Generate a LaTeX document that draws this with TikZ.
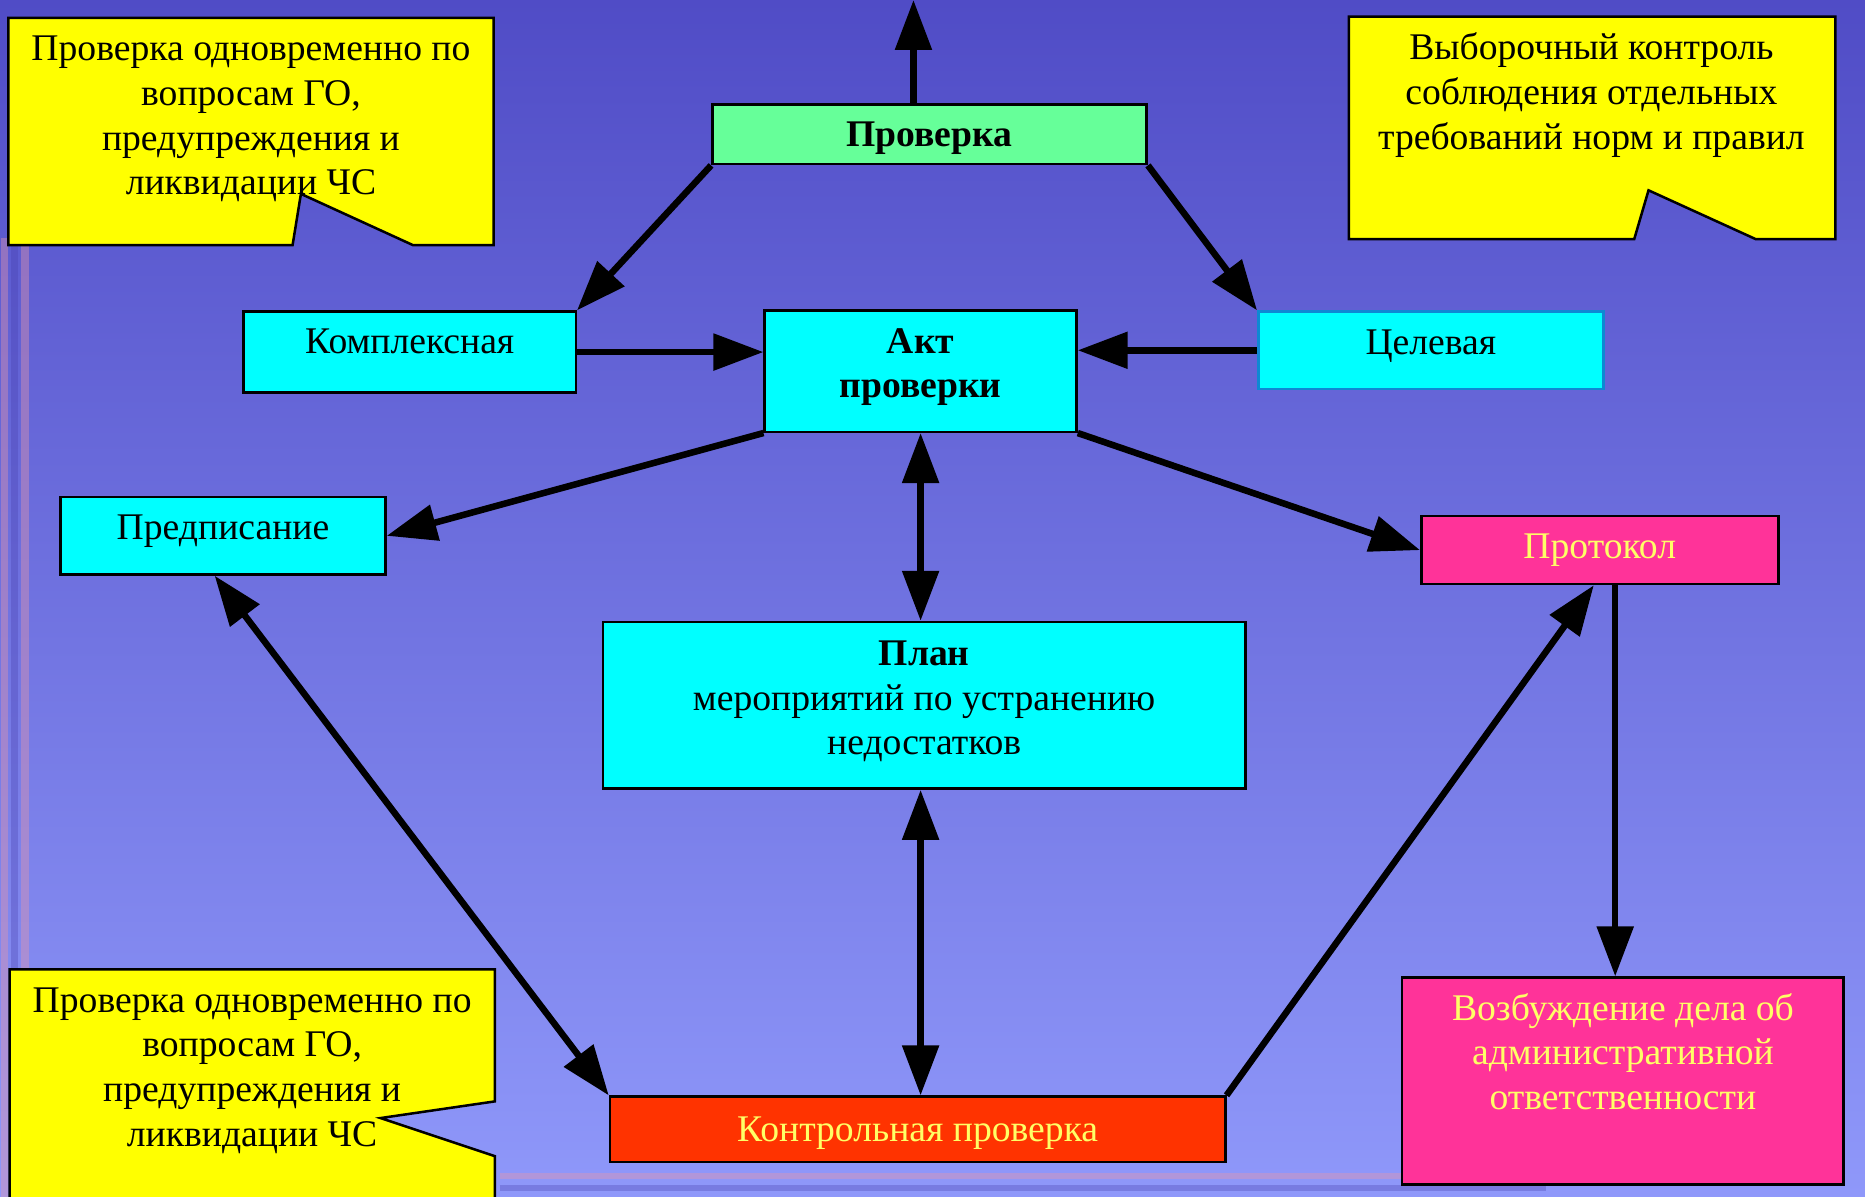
\documentclass[tikz,border=0pt]{standalone}
\usepackage{fontspec}
\setmainfont{Liberation Serif}
\usetikzlibrary{arrows.meta,positioning,calc}

\definecolor{bgtop}{RGB}{80,76,198}
\definecolor{bgbot}{RGB}{143,152,250}
\definecolor{boxcyan}{RGB}{0,255,255}
\definecolor{boxgreen}{RGB}{102,255,153}
\definecolor{boxpink}{RGB}{255,51,153}
\definecolor{boxred}{RGB}{255,51,0}
\definecolor{noteyellow}{RGB}{255,255,0}
\definecolor{txtyellow}{RGB}{255,255,102}
\definecolor{stripepink}{RGB}{230,150,170}
\definecolor{stripedark}{RGB}{70,60,170}

\begin{document}
\begin{tikzpicture}[
    x=0.01cm, y=-0.01cm,
    every node/.style={font=\fontsize{9}{10.7}\selectfont},
    box/.style={rectangle, draw, line width=0.6pt, inner sep=2pt, align=center},
    note/.style={draw, line width=0.6pt, fill=noteyellow},
    arr/.style={line width=0.055cm, -{Triangle[length=4.2mm, width=3mm]}},
    dbl/.style={line width=0.055cm, {Triangle[length=4.2mm, width=3mm]}-{Triangle[length=4.2mm, width=3mm]}},
]
    % Background
    \useasboundingbox (0,0) rectangle (1568,1006);
    \shade[top color=bgtop, bottom color=bgbot] (0,0) rectangle (1568,1006);
    \draw[stripepink, line width=0.06cm, opacity=0.4] (4,200) -- (4,1006);
    \draw[stripedark, line width=0.06cm, opacity=0.3] (12,180) -- (12,1006);
    \draw[stripepink, line width=0.06cm, opacity=0.4] (21,200) -- (21,1006);
    \draw[stripepink, line width=0.05cm, opacity=0.4] (420,989) -- (1200,989);
    \draw[stripedark, line width=0.05cm, opacity=0.3] (420,999) -- (1300,999);

    % Notes
    \draw[note] (7,15) -- (415,15) -- (415,206) -- (347,206) -- (253,163) -- (246,206) -- (7,206) -- cycle;
    \node[align=center] (noteTL) at (211,100) {Проверка одновременно по\\вопросам ГО,\\предупреждения и\\ликвидации ЧС};
    \draw[note] (1134,14) -- (1543,14) -- (1543,201) -- (1476,201) -- (1386,160) -- (1374,201) -- (1134,201) -- cycle;
    \node[align=center] (noteTR) at (1338,80) {Выборочный контроль\\соблюдения отдельных\\требований норм и правил};
    \draw[note] (8,815) -- (416,815) -- (416,926) -- (320,940) -- (416,972) -- (416,1010) -- (8,1010) -- cycle;
    \node[align=center] (noteBL) at (212,900) {Проверка одновременно по\\вопросам ГО,\\предупреждения и\\ликвидации ЧС};

    % Top
    \node[box, fill=boxgreen, minimum width=3.65cm, minimum height=0.5cm, text depth=0pt, font=\fontsize{9}{10.7}\selectfont\bfseries] (proverka) at (781.5,113) {Проверка};
    \coordinate (top) at (768,0);

    % Layer 1
    \node[box, fill=boxcyan, minimum width=2.79cm, minimum height=0.68cm, text depth=5pt] (kompl) at (344.5,296) {Комплексная};
    \node[box, fill=boxcyan, minimum width=2.62cm, minimum height=1.02cm, text depth=3.8pt, font=\fontsize{9}{10.7}\selectfont\bfseries] (akt) at (774,312) {Акт\\проверки};
    \node[box, draw=cyan!70!blue, fill=boxcyan, minimum width=2.9cm, minimum height=0.65cm, text depth=4.1pt] (tselev) at (1203,294.5) {Целевая};

    % Layer 2
    \node[box, fill=boxcyan, minimum width=2.73cm, minimum height=0.65cm, text depth=4.1pt] (predp) at (187.5,450.5) {Предписание};
    \node[box, fill=boxpink, text=txtyellow, minimum width=3cm, minimum height=0.57cm, text depth=1.7pt] (protokol) at (1345,462.5) {Протокол};
    \node[box, fill=boxcyan, minimum width=5.4cm, minimum height=1.4cm, text depth=3.6pt] (plan) at (777,593) {\textbf{План}\\мероприятий по устранению\\недостатков};

    % Layer 3
    \node[box, fill=boxred, text=txtyellow, minimum width=5.17cm, minimum height=0.55cm, text depth=0.3pt] (kontrol) at (771.5,949.5) {Контрольная проверка};
    \node[box, fill=boxpink, text=txtyellow, minimum width=3.71cm, minimum height=1.74cm, text depth=14.2pt] (vozb) at (1364.5,909) {Возбуждение дела об\\административной\\ответственности};

    % Connectors
    \draw[arr] (proverka.north -| top) -- (top);
    \draw[arr] (proverka.south west) -- (kompl.north east);
    \draw[arr] (proverka.south east) -- (tselev.north west);
    \draw[arr] (kompl.east) -- (kompl.east -| akt.west);
    \draw[arr] (tselev.west) -- (tselev.west -| akt.east);
    \draw[arr] (akt.south west) -- (predp.east);
    \draw[arr] (akt.south east) -- (protokol.west);
    \draw[dbl] (akt.south) -- (akt.south |- plan.north);
    \draw[dbl] (akt.south |- plan.south) -- (akt.south |- kontrol.north);
    \draw[dbl] ($(predp.south)+(-7,0)$) -- (kontrol.north west);
    \draw[arr] (kontrol.north east) -- ($(protokol.south)+(-5,0)$);
    \draw[arr] ($(protokol.south)+(13,0)$) -- ($(vozb.north)+(-6.5,0)$);
\end{tikzpicture}
\end{document}
